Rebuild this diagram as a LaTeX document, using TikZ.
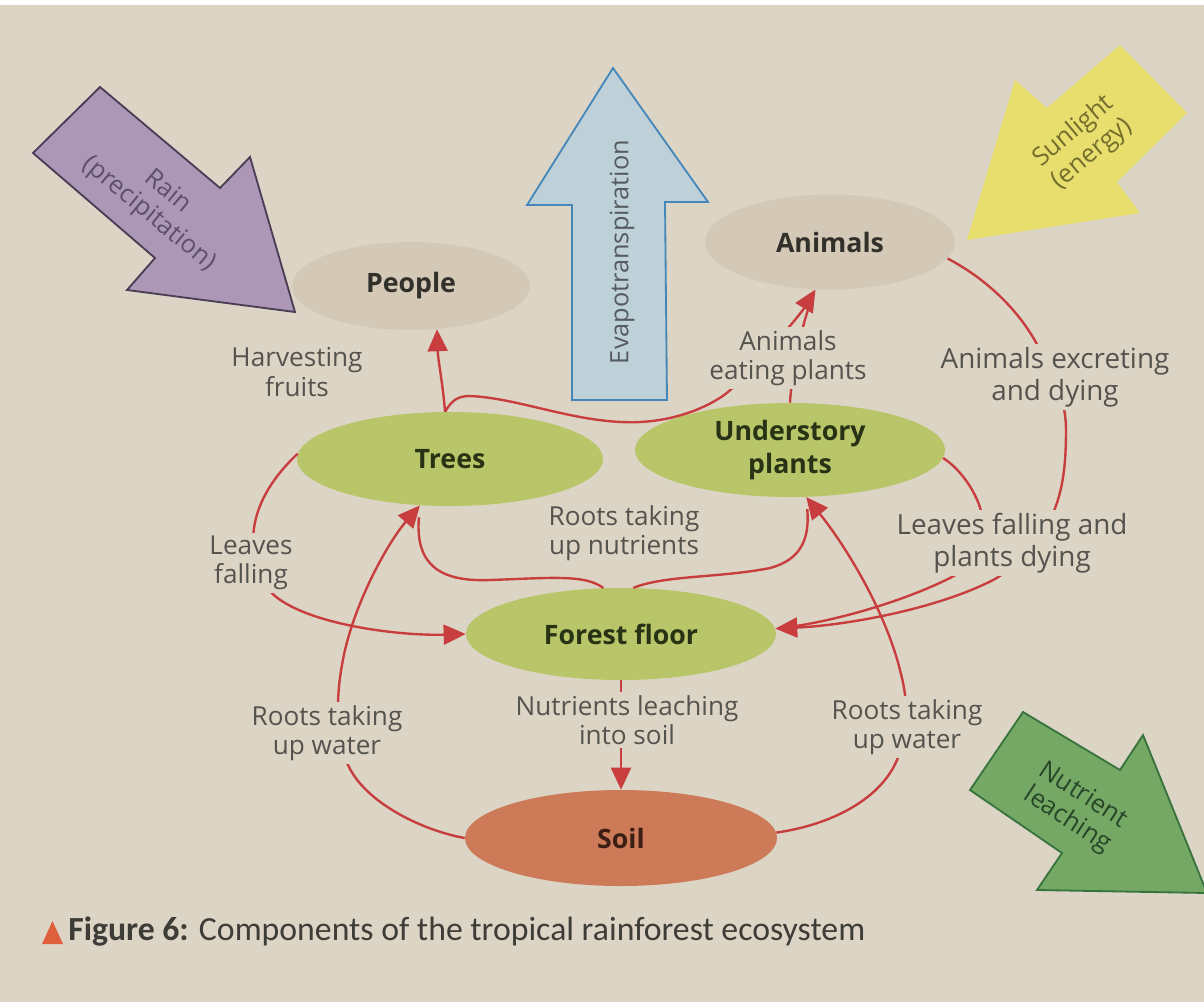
\documentclass[tikz,border=0pt]{standalone}
\usepackage{fontspec}
\setmainfont{Open Sans}
\newfontfamily\capfont{Carlito}
\usetikzlibrary{shapes.geometric,arrows.meta}

\definecolor{bg}{RGB}{220,213,198}
\definecolor{fauna}{RGB}{212,201,182}
\definecolor{leaf}{RGB}{184,197,104}
\definecolor{earth}{RGB}{204,122,88}
\definecolor{flowred}{RGB}{200,62,62}
\definecolor{lbltext}{RGB}{85,83,78}
\definecolor{darktext}{RGB}{50,48,42}
\definecolor{leaftext}{RGB}{40,50,20}
\definecolor{earthtext}{RGB}{60,30,20}
\definecolor{rainfill}{RGB}{172,152,182}
\definecolor{rainline}{RGB}{75,60,85}
\definecolor{raintext}{RGB}{95,80,105}
\definecolor{evapfill}{RGB}{190,208,216}
\definecolor{evapline}{RGB}{70,135,185}
\definecolor{evaptext}{RGB}{85,90,95}
\definecolor{sunfill}{RGB}{232,222,110}
\definecolor{suntext}{RGB}{115,110,45}
\definecolor{leachfill}{RGB}{116,168,100}
\definecolor{leachline}{RGB}{55,115,60}
\definecolor{leachtext}{RGB}{40,70,40}
\definecolor{capred}{RGB}{222,95,60}
\definecolor{captext}{RGB}{62,60,55}

\tikzset{
  bubble/.style={ellipse, inner sep=0pt, align=center,
    font=\bfseries\fontsize{19}{24}\selectfont},
  lbl/.style={fill=bg, inner sep=2pt, align=center, text=lbltext,
    font=\fontsize{18.6}{21}\selectfont},
  biglbl/.style={lbl, font=\fontsize{19.8}{23}\selectfont},
  flow/.style={draw=flowred, line width=1.7pt},
  arrowed/.style={-{Triangle[length=0.55cm,width=0.5cm]}},
  merge/.style={shorten >=0.3cm},
  bigarrow/.style={line width=1.3pt, line join=miter},
  arrowtext/.style={align=center, font=\fontsize{18}{20.5}\selectfont},
}

\begin{document}
\begin{tikzpicture}[x=0.025cm,y=-0.025cm]
  \useasboundingbox (0,0) rectangle (1204,1002);
  \clip (0,0) rectangle (1204,1002);
  \fill[bg] (0,0) rectangle (1204,1002);
  \fill[white] (0,0) rectangle (1204,5);

  % incoming and outgoing fluxes
  \filldraw[bigarrow, fill=rainfill, draw=rainline]
    (100,87) -- (220,188) -- (250,157) -- (295,312) -- (127,290)
    -- (155,258) -- (33,153) -- cycle;
  \node[arrowtext, text=raintext, rotate=-39.5] (rain) at (158,203)
    {Rain\\(precipitation)};

  \filldraw[bigarrow, fill=evapfill, draw=evapline]
    (613,68) -- (708,202) -- (665,202) -- (667,400) -- (572,400)
    -- (572,205) -- (527,205) -- cycle;
  \node[arrowtext, text=evaptext, rotate=90] (evap) at (622,252)
    {Evapotranspiration};

  \fill[sunfill]
    (1120,45) -- (1187,113) -- (1117,182) -- (1140,213) -- (967,240)
    -- (1015,80) -- (1047,108) -- cycle;
  \node[arrowtext, text=suntext, rotate=40] (sun) at (1083,143)
    {Sunlight\\(energy)};

  \filldraw[bigarrow, fill=leachfill, draw=leachline]
    (1023,712) -- (1120,770) -- (1143,735) -- (1207,893) -- (1037,890)
    -- (1062,853) -- (970,790) -- cycle;
  \node[arrowtext, text=leachtext, rotate=-33] (leach) at (1075,808)
    {Nutrient\\leaching};

  % ecosystem components
  \node[bubble, fill=fauna, text=darktext, minimum width=5.95cm, minimum height=2.2cm]
    (people) at (411,286) {People};
  \node[bubble, fill=fauna, text=darktext, minimum width=6.25cm, minimum height=2.375cm]
    (animals) at (830,242) {Animals};
  \node[bubble, fill=leaf, text=leaftext, minimum width=7.65cm, minimum height=2.35cm]
    (trees) at (450,459) {Trees};
  \node[bubble, fill=leaf, text=leaftext, minimum width=7.75cm, minimum height=2.35cm]
    (under) at (790,450) {Understory\\plants};
  \node[bubble, fill=leaf, text=leaftext, minimum width=7.75cm, minimum height=2.3cm]
    (ff) at (621,634) {Forest floor};
  \node[bubble, fill=earth, text=earthtext, minimum width=7.8cm, minimum height=2.4cm]
    (soil) at (621,838) {Soil};

  % flows between the components
  \draw[flow,arrowed] (trees.96) .. controls (443,385) and (438,360) .. (people.-59);
  \draw[flow,arrowed] (trees.96) .. controls (452,400) and (458,396) .. (470,396)
    .. controls (520,398) and (580,425) .. (640,422)
    .. controls (680,420) and (712,405) .. (728,392)
    .. controls (755,368) and (800,315) .. (animals.-107);
  \draw[flow,merge] (under.90) .. controls (791,380) and (800,330) .. (animals.-107);
  \draw[flow,arrowed] (trees.178) .. controls (275,475) and (258,500) .. (254,528)
    .. controls (250,560) and (262,585) .. (275,596)
    .. controls (310,625) and (400,636) .. (ff.180);
  \draw[flow,merge] (ff.111) .. controls (585,574) and (550,578) .. (490,580)
    .. controls (440,582) and (415,565) .. (trees.-123);
  \draw[flow,arrowed] (soil.180) .. controls (420,830) and (360,800) .. (346,760)
    .. controls (335,725) and (336,690) .. (345,650)
    .. controls (358,595) and (390,540) .. (trees.-123);
  \draw[flow,merge] (ff.75) .. controls (665,575) and (720,578) .. (770,568)
    .. controls (800,560) and (810,540) .. (under.-71);
  \draw[flow,arrowed] (soil.2) .. controls (830,825) and (880,800) .. (897,760)
    .. controls (910,730) and (908,700) .. (900,670)
    .. controls (885,610) and (845,545) .. (under.-71);
  \draw[flow,arrowed] (animals.-8) .. controls (985,278) and (1020,310) .. (1040,350)
    .. controls (1055,380) and (1066,400) .. (1066,430)
    .. controls (1066,470) and (1062,495) .. (1050,520)
    .. controls (1035,550) and (1010,570) .. (995,579)
    .. controls (940,608) and (850,625) .. (ff.2);
  \draw[flow,merge] (under.-3) .. controls (962,470) and (978,495) .. (982,515)
    .. controls (990,545) and (975,565) .. (950,578)
    .. controls (900,603) and (830,622) .. (ff.2);
  \draw[flow,arrowed] (ff.south) -- (soil.north);

  % flow labels
  \node[lbl] (harvest) at (297,372) {Harvesting\\fruits};
  \node[lbl] (eat) at (788,358) {Animals\\eating plants};
  \node[biglbl] (excrete) at (1055,377) {Animals excreting\\and dying};
  \node[lbl] (leaves) at (251,563) {Leaves\\falling};
  \node[lbl] (nutrients) at (624,533) {Roots taking\\up nutrients};
  \node[biglbl] (litter) at (1012,543) {Leaves falling and\\plants dying};
  \node[lbl] (waterL) at (327,733) {Roots taking\\up water};
  \node[lbl] (leaching) at (627,720) {Nutrients leaching\\into soil};
  \node[lbl] (waterR) at (907,727) {Roots taking\\up water};

  % caption
  \fill[capred] (42,944) -- (63,944) -- (52.5,921) -- cycle;
  \node[anchor=west, inner sep=0pt, text=captext, font=\capfont\fontsize{24}{28}\selectfont]
    (caption) at (68,932) {\textbf{Figure 6:} Components of the tropical rainforest ecosystem};
\end{tikzpicture}
\end{document}
